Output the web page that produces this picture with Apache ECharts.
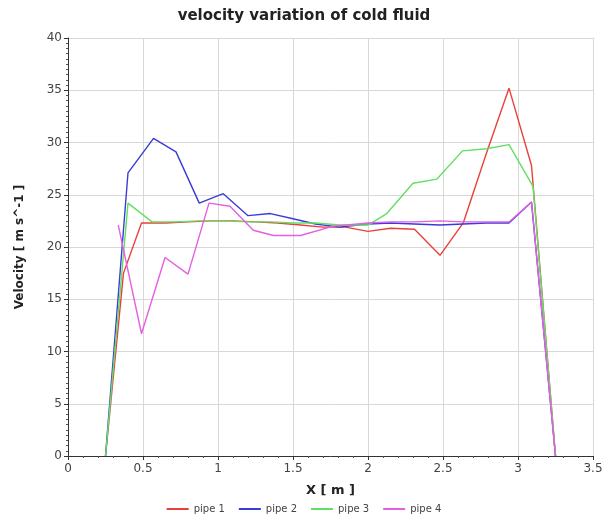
<!DOCTYPE html>
<html>
<head>
<meta charset="utf-8">
<script src="https://cdn.jsdelivr.net/npm/echarts@6/dist/echarts.min.js"></script>
<style>
  html, body { margin: 0; padding: 0; background: #fff; }
  #main { width: 608px; height: 521px; }
</style>
</head>
<body>
<div id="main"></div>
<script>
// values, x in m, velocity in m/s
var pipeNames = ['pipe 1', 'pipe 2', 'pipe 3', 'pipe 4'];
var pipeColors = ['#e8403a', '#3b3bd6', '#63df63', '#e35fe3'];

var x1 = [0.25, 0.37, 0.49, 0.65, 0.80, 0.95, 1.10, 1.25, 1.40, 1.55, 1.70, 1.85, 2.00, 2.15, 2.31, 2.48, 2.635, 2.79, 2.94, 3.09, 3.25];
var v1 = [0, 17.5, 22.3, 22.3, 22.4, 22.5, 22.5, 22.4, 22.3, 22.1, 21.9, 21.9, 21.5, 21.8, 21.7, 19.2, 22.3, 29.0, 35.2, 27.8, 0];

var x2 = [0.25, 0.40, 0.57, 0.72, 0.875, 1.035, 1.20, 1.35, 1.50, 1.65, 1.81, 2.00, 2.15, 2.31, 2.48, 2.635, 2.79, 2.94, 3.09, 3.25];
var v2 = [0, 27.1, 30.4, 29.1, 24.2, 25.1, 23.0, 23.2, 22.7, 22.2, 21.9, 22.2, 22.3, 22.2, 22.1, 22.2, 22.3, 22.3, 24.3, 0];

var x3 = [0.25, 0.40, 0.56, 0.72, 0.875, 1.035, 1.20, 1.35, 1.50, 1.65, 1.81, 2.00, 2.125, 2.30, 2.46, 2.63, 2.79, 2.94, 3.10, 3.25];
var v3 = [0, 24.2, 22.4, 22.4, 22.5, 22.5, 22.4, 22.4, 22.3, 22.3, 22.1, 22.1, 23.2, 26.1, 26.5, 29.2, 29.4, 29.8, 25.8, 0];

var x4 = [0.335, 0.49, 0.647, 0.80, 0.94, 1.08, 1.235, 1.37, 1.55, 1.77, 2.00, 2.15, 2.31, 2.48, 2.635, 2.79, 2.94, 3.09, 3.25];
var v4 = [22.1, 11.7, 19.0, 17.4, 24.2, 23.9, 21.6, 21.1, 21.1, 22.0, 22.3, 22.4, 22.4, 22.5, 22.4, 22.4, 22.4, 24.3, 0];

var xTicks = [0, 0.5, 1, 1.5, 2, 2.5, 3, 3.5];
var vTicks = [0, 5, 10, 15, 20, 25, 30, 35, 40];

function pairs(xs, vs) {
    var out = [];
    for (var i = 0; i < xs.length; i++) out.push([xs[i], vs[i]]);
    return out;
}

var allX = [x1, x2, x3, x4];
var allV = [v1, v2, v3, v4];

var series = [];
for (var k = 0; k < pipeNames.length; k++) {
    series.push({
        name: pipeNames[k],
        type: 'line',
        data: pairs(allX[k], allV[k]),
        symbol: 'none',
        lineStyle: { color: pipeColors[k], width: 1.4 },
        itemStyle: { color: pipeColors[k] },
        animation: false
    });
}

var myChart = echarts.init(document.getElementById('main'));
var option = {
    title: {
        text: 'velocity variation of cold fluid',
        left: 'center',
        top: 4,
        textStyle: { fontFamily: 'DejaVu Sans', fontSize: 15, fontWeight: 'bold', color: '#222' }
    },
    legend: {
        bottom: 2,
        left: 'center',
        itemWidth: 22,
        itemHeight: 2,
        itemGap: 14,
        icon: 'rect',
        data: pipeNames,
        textStyle: { fontFamily: 'DejaVu Sans', fontSize: 10, color: '#444' }
    },
    grid: { left: 68, right: 15, top: 38, bottom: 65 },
    xAxis: {
        type: 'value',
        min: xTicks[0],
        max: xTicks[xTicks.length - 1],
        interval: 0.5,
        name: 'X [ m ]',
        nameLocation: 'middle',
        nameGap: 28,
        nameTextStyle: { fontFamily: 'DejaVu Sans', fontSize: 13, fontWeight: 'bold', color: '#222' },
        axisLine: { onZero: false, lineStyle: { color: '#333' } },
        axisTick: { length: 4, lineStyle: { color: '#333' } },
        minorTick: { show: true, splitNumber: 5, length: 2, lineStyle: { color: '#555' } },
        axisLabel: { fontFamily: 'DejaVu Sans', fontSize: 12, color: '#444', margin: 7 },
        splitLine: { show: true, lineStyle: { color: '#d8d8d8' } }
    },
    yAxis: {
        type: 'value',
        min: vTicks[0],
        max: vTicks[vTicks.length - 1],
        interval: 5,
        name: 'Velocity [ m s^-1 ]',
        nameLocation: 'middle',
        nameGap: 42,
        nameTextStyle: { fontFamily: 'DejaVu Sans', fontSize: 12, fontWeight: 'bold', color: '#222' },
        axisLine: { show: true, lineStyle: { color: '#333' } },
        axisTick: { show: true, length: 4, lineStyle: { color: '#333' } },
        minorTick: { show: true, splitNumber: 10, length: 2, lineStyle: { color: '#555' } },
        axisLabel: { fontFamily: 'DejaVu Sans', fontSize: 12, color: '#444', margin: 6 },
        splitLine: { show: true, lineStyle: { color: '#d8d8d8' } }
    },
    series: series
};
myChart.setOption(option);
</script>
</body>
</html>
